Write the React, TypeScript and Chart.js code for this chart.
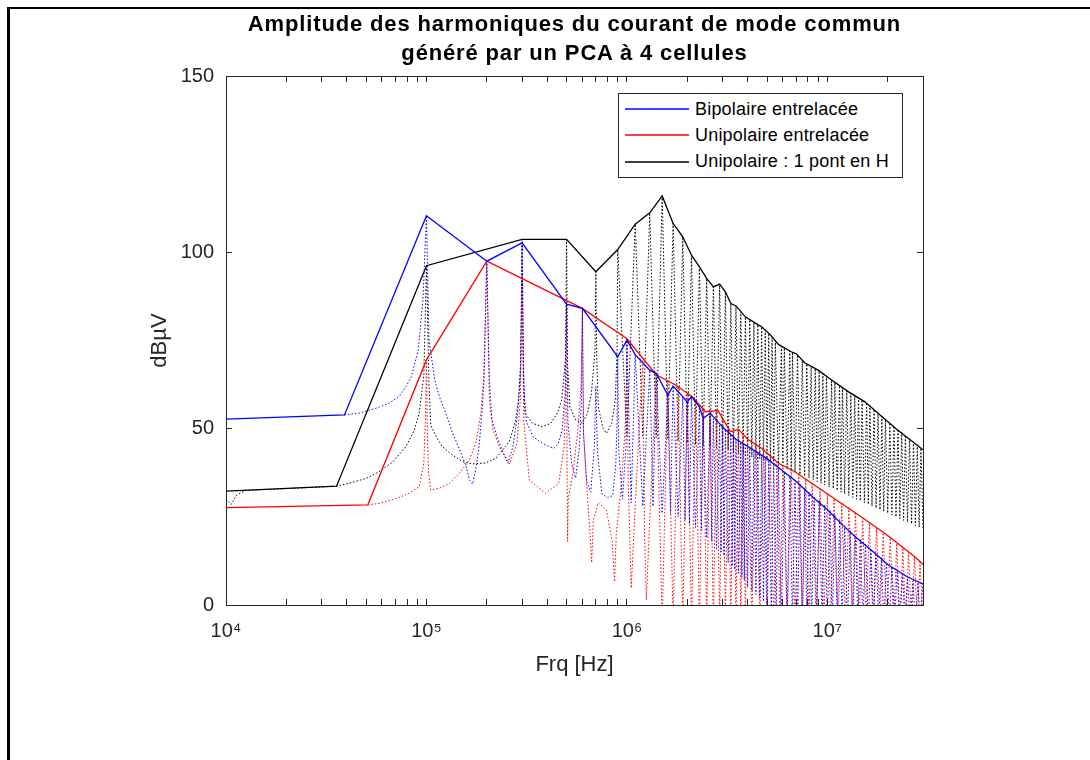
import React, { useEffect, useRef } from 'react';
import { Chart, registerables } from 'chart.js';

Chart.register(...registerables);

type Pt = [number, number]; // [frequency in kHz, amplitude in dBµV]

// ---------- envelopes (solid lines) ----------
const blueEnvelope: Pt[] = [
  [10, 52.7], [39, 53.9], [100, 110.4], [200, 97.5], [300, 102.7], [500, 85.3], [600, 84.1],
  [900, 70.4], [1000, 75.1], [1100, 71], [1300, 66.6], [1400, 65.7], [1600, 59.5], [1700, 62.1],
  [1900, 59.1], [2000, 57.6], [2100, 59.1], [2300, 56.2], [2400, 52.9], [2600, 54.4], [3000, 50.5],
  [3500, 47], [4000, 45], [5000, 41.5], [6000, 38], [7000, 35], [8500, 30.5], [10000, 27],
  [12000, 22.5], [14000, 19], [17000, 15], [20000, 11.5], [25000, 8], [30000, 6],
];

const redEnvelope: Pt[] = [
  [10, 27.6], [51, 28.4], [100, 69.5], [200, 97.5], [600, 84.1], [1000, 75.5], [1400, 65.3],
  [1750, 62.4], [2110, 59.1], [2470, 54.8], [2850, 55.1], [3280, 49.1], [3600, 49.8], [4050, 46.8],
  [4710, 44.4], [5710, 40.2], [6900, 37.8], [8360, 34.5], [10500, 30.7], [14300, 25.5],
  [19400, 20.3], [27300, 13.7], [30000, 11.5],
];

const blackEnvelope: Pt[] = [
  [10, 32.3], [35.6, 33.7], [100, 96.2], [300, 103.7], [500, 103.7], [700, 94.5], [900, 100.8],
  [1100, 108], [1300, 111.2], [1500, 116], [1700, 108.2], [1900, 104.4], [2100, 99.2], [2300, 95.9],
  [2500, 92.6], [2700, 90.2], [2900, 91], [3100, 88.8], [3300, 85.5], [3500, 84.8], [3900, 81.7],
  [4500, 79.5], [4700, 78.9], [5200, 76.6], [5700, 73.9], [6600, 71.8], [7000, 71.2], [7700, 68.7],
  [9000, 66.6], [10500, 63.8], [12700, 60.5], [15400, 57.6], [17900, 54.4], [22000, 50], [30000, 44],
];

// ---------- spectra (dotted lines) ----------
const blueSpectrum: Pt[] = [
  [39, 53.9], [46, 54.4], [56, 55.8], [65, 57.2], [73, 59.1], [79, 61.9], [84, 64.7], [91, 72.3], [96, 86.5],
  [100, 110.4], [103, 75.1], [110, 63.8], [116, 59.1], [125, 54.4], [135, 48.7], [149, 43], [158, 39.2],
  [164, 35.4], [170, 34.3], [177, 39.2], [183, 44.9], [189, 54.4], [194, 64], [200, 97.5], [206, 64],
  [212, 52.5], [225, 47.7], [240, 43.5], [255, 40.2], [270, 44.9], [285, 54.4], [294, 65], [300, 102.7],
  [306, 62], [315, 52], [340, 47.7], [380, 45.8], [430, 44.4], [455, 45.8], [475, 49.6], [492, 60],
  [500, 85.3], [508, 52], [530, 40], [555, 36], [580, 45], [593, 58], [600, 84.1], [608, 48], [630, 35],
  [660, 32], [688, 45], [700, 62], [712, 44], [750, 31.5], [800, 30.5], [850, 31], [880, 40], [893, 52],
  [900, 70.4], [908, 45], [950, 30], [990, 45], [1000, 75.1], [1050, 29], [1100, 71], [1200, 28],
  [1300, 66.6], [1350, 28], [1400, 65.7], [1500, 26], [1600, 59.5], [1650, 26], [1700, 62.1], [1800, 25],
  [1900, 59.1], [1950, 24], [2000, 57.6], [2050, 23], [2100, 59.1], [2200, 22], [2300, 56.2], [2350, 21],
  [2400, 52.9], [2500, 19], [2600, 54.4], [2650, 18], [2700, 52.8], [2800, 16], [2900, 51.2], [2950, 15],
  [3000, 50.5], [3050, 14], [3100, 49.9], [3200, 12], [3300, 48.5], [3350, 11], [3400, 47.8], [3450, 10],
  [3500, 47], [3600, 9], [3700, 46.2], [3750, 8], [3800, 45.8], [3850, 7], [3900, 45.4], [4000, 5],
  [4100, 44.6], [4200, 4], [4300, 43.9], [4400, 3], [4500, 43.2], [4600, 2], [4700, 42.5], [4800, 1],
  [4900, 41.8], [5000, 0], [5100, 41.2], [5250, -2], [5400, 40.1], [5550, -3], [5700, 39.1], [5900, -4],
  [6100, 37.7], [6300, -5], [6500, 36.5], [6700, -5], [6900, 35.3], [7100, -5], [7300, 34.3], [7500, -5],
  [7700, 33.2], [7900, -5], [8100, 32], [8350, -5], [8600, 30.8], [8850, -5], [9100, 29.8], [9400, -5],
  [9700, 28.5], [10000, -5], [10300, 27], [10600, -5], [10900, 25.7], [11200, -5], [11500, 24.2],
  [11850, -5], [12200, 22.5], [12600, -5], [13000, 21.1], [13400, -5], [13800, 19.7], [14200, -5],
  [14600, 18.5], [15050, -5], [15500, 17.2], [16000, -5], [16500, 15.9], [17000, -5], [17500, 14.7],
  [18050, -5], [18600, 13.4], [19150, -5], [19700, 12], [20350, -5], [21000, 10.8], [21650, -5],
  [22300, 9.7], [23000, -5], [23700, 8.6], [24400, -5], [25100, 7.6], [25900, -5], [26700, 6.8],
  [27500, -5], [28300, 6.4], [29100, -5], [29900, 6],
];

const redSpectrum: Pt[] = [
  [51, 28.4], [58, 28.8], [71, 30.2], [82, 31.7], [92, 33.5], [97, 40.2], [99, 54], [100, 69.5],
  [101, 49.6], [102.5, 37.3], [105, 32.6], [116, 33.1], [130, 34.5], [146, 37.3], [164, 41.1], [177, 46.3],
  [187, 54.4], [193, 65], [200, 97.5], [206, 58], [215, 49.6], [231, 44.9], [260, 40], [283, 46], [294, 58],
  [300, 92.5], [306, 52], [326, 35.4], [392, 31.7], [457, 34.5], [486, 44.9], [495, 60], [500, 86.3],
  [503, 40], [506, 18], [510, 30], [540, 38], [570, 50], [590, 62], [600, 84.1], [606, 50], [630, 34],
  [655, 20], [667, 12], [680, 24], [720, 29], [790, 27], [845, 18], [868, 6.6], [885, 20], [940, 35],
  [980, 50], [993, 62], [1000, 75.5], [1015, 35], [1050, 4.8], [1100, 28], [1200, 70], [1225, 20],
  [1250, 1.4], [1300, 24], [1400, 65.3], [1500, -5], [1600, 63.6], [1700, -5], [1800, 62], [1900, -5],
  [2000, 60], [2100, -5], [2200, 58.3], [2300, -5], [2400, 55.6], [2500, -5], [2600, 55], [2700, -5],
  [2800, 55.1], [2900, -5], [3000, 53], [3100, -5], [3200, 50], [3300, -5], [3400, 49.3], [3500, -5],
  [3600, 49.8], [3700, -5], [3800, 48], [3900, -5], [4000, 47], [4200, -5], [4400, 45.5], [4600, -5],
  [4800, 44.1], [5000, -5], [5200, 42.3], [5400, -5], [5600, 40.6], [5800, -5], [6000, 39.7], [6300, -5],
  [6600, 38.4], [6900, -5], [7200, 37], [7500, -5], [7800, 35.8], [8100, -5], [8400, 34.4], [8800, -5],
  [9200, 33], [9600, -5], [10000, 31.5], [10400, -5], [10800, 30.2], [11300, -5], [11800, 28.8],
  [12300, -5], [12800, 27.6], [13300, -5], [13800, 26.4], [14400, -5], [15000, 24.6], [15600, -5],
  [16200, 23.2], [16900, -5], [17600, 21.8], [18300, -5], [19000, 20.5], [19800, -5], [20600, 19],
  [21400, -5], [22200, 17.5], [23000, -5], [23800, 16.2], [24600, -5], [25400, 14.9], [26300, -5],
  [27200, 13.7], [28100, -5], [29000, 12.2], [30000, -5],
];

const blackSpectrum: Pt[] = [
  [10, 30], [10.6, 28.5], [11.3, 31.2], [12.5, 32.5], [20, 33], [35.6, 33.7], [41, 34.5], [50, 35.9],
  [58, 37.8], [68, 40.6], [79, 44.9], [87, 49.6], [92, 54.4], [97, 65], [100, 96.2], [103, 62], [105, 51],
  [112, 47.7], [120, 44.9], [135, 42.5], [152, 40.6], [170, 40], [198, 40.3], [222, 41.6], [240, 44],
  [259, 46.3], [279, 52.5], [288, 58.1], [296, 70], [300, 103.7], [304, 68], [310, 54.4], [338, 51.5],
  [379, 50.6], [417, 51.5], [450, 54.4], [473, 58.1], [494, 70], [500, 103.7], [506, 68], [520, 56],
  [555, 52.5], [600, 51.5], [636, 54.4], [665, 60], [693, 72], [700, 94.5], [707, 70], [720, 56.2],
  [760, 50.1], [790, 48.7], [840, 51.5], [875, 58], [893, 72], [900, 100.8], [1000, 48], [1100, 108],
  [1200, 48], [1300, 111.2], [1400, 47.5], [1500, 116], [1600, 47], [1700, 108.2], [1800, 46.5],
  [1900, 104.4], [2000, 46], [2100, 99.2], [2200, 45.5], [2300, 95.9], [2400, 45], [2500, 92.6],
  [2600, 45], [2700, 90.2], [2800, 44.5], [2900, 91], [3000, 44], [3100, 88.8], [3200, 44], [3300, 85.5],
  [3400, 43.5], [3500, 84.8], [3600, 43], [3700, 83.2], [3800, 43], [3900, 81.7], [4000, 42.5],
  [4100, 80.9], [4200, 42], [4300, 80.2], [4400, 42], [4500, 79.5], [4600, 41.5], [4700, 78.9],
  [4800, 41], [4900, 77.9], [5000, 41], [5100, 77], [5200, 40.5], [5300, 75.9], [5400, 40], [5500, 74.9],
  [5700, 39.5], [5900, 73.3], [6000, 39], [6100, 72.9], [6300, 38.5], [6500, 72], [6600, 38], [6700, 71.7],
  [6900, 37.5], [7100, 70.9], [7300, 37], [7500, 69.4], [7700, 36.5], [7900, 68.4], [8100, 36],
  [8300, 67.8], [8500, 35.5], [8700, 67.1], [8900, 35], [9100, 66.4], [9300, 34.5], [9500, 65.6],
  [9700, 34], [9900, 64.9], [10200, 33.5], [10500, 63.8], [10700, 33], [10900, 63.1], [11200, 32.5],
  [11500, 62.2], [11700, 32], [11900, 61.7], [12200, 31.5], [12500, 60.8], [12800, 31], [13100, 60.1],
  [13400, 30.5], [13700, 59.5], [14000, 30], [14300, 58.8], [14600, 29.5], [14900, 58.2], [15300, 29],
  [15700, 57.4], [16000, 28.5], [16300, 56.6], [16700, 28], [17100, 55.5], [17500, 27.5], [17900, 54.4],
  [18300, 27], [18700, 53.5], [19100, 26.5], [19500, 52.7], [20000, 26], [20500, 51.7], [21000, 25.5],
  [21500, 50.8], [22000, 25], [22500, 49.9], [23000, 24.5], [23500, 49], [24000, 24], [24500, 48.2],
  [25100, 23.5], [25700, 47.2], [26300, 23], [26900, 46.3], [27500, 22.5], [28100, 45.4], [28700, 22],
  [29300, 44.5], [30000, 21.5],
];

// ---------- texts & ticks ----------
const seriesLabels = ['Bipolaire entrelacée', 'Unipolaire entrelacée', 'Unipolaire : 1 pont en H'];
const seriesColors = ['#0000ff', '#ff0000', '#000000'];
const titleLines = ['Amplitude des harmoniques du courant de mode commun', 'généré par un PCA à 4 cellules'];
const xAxisTitle = 'Frq [Hz]';
const yAxisTitle = 'dBµV';
const xTickMantissas = [1, 2, 3, 4, 5, 6, 7, 8, 9];
const xTickDecades = [4, 5, 6, 7];
const xMin = 1e4;
const xMax = 3e7;
const yMin = 0;
const yMax = 150;
const yStep = 50;

const SUP = '⁰¹²³⁴⁵⁶⁷⁸⁹';
const FONT = '"Liberation Sans", Arial, Helvetica, sans-serif';
const AXIS_COLOR = '#262626';

const toXY = (pts: Pt[]) => pts.map(([k, v]) => ({ x: k * 1000, y: v }));

export default function App() {
  const canvasRef = useRef<HTMLCanvasElement | null>(null);

  useEffect(() => {
    if (!canvasRef.current) return;
    const xTicks: number[] = [];
    for (const e of xTickDecades) {
      for (const m of xTickMantissas) {
        const v = m * Math.pow(10, e);
        if (v >= xMin && v <= xMax) xTicks.push(v);
      }
    }
    const setXTicks = (scale: any) => {
      scale.ticks = xTicks.map((v) => ({ value: v }));
    };

    const solid = (label: string, pts: Pt[], color: string) => ({
      label,
      data: toXY(pts),
      borderColor: color,
      backgroundColor: color,
      borderWidth: 1.3,
      pointRadius: 0,
      pointHoverRadius: 0,
      fill: false,
      tension: 0,
    });
    const dotted = (label: string, pts: Pt[], color: string) => ({
      label,
      data: toXY(pts),
      borderColor: color,
      backgroundColor: color,
      borderWidth: 1,
      borderDash: [1.5, 2],
      pointRadius: 0,
      pointHoverRadius: 0,
      fill: false,
      tension: 0,
    });

    const tickFont = { family: FONT, size: 20 };
    const titleFont = { family: FONT, size: 22 };

    const chart = new Chart(canvasRef.current, {
      type: 'line',
      data: {
        datasets: [
          solid(seriesLabels[0], blueEnvelope, seriesColors[0]),
          solid(seriesLabels[1], redEnvelope, seriesColors[1]),
          solid(seriesLabels[2], blackEnvelope, seriesColors[2]),
          dotted(seriesLabels[0] + ' (spectre)', blueSpectrum, seriesColors[0]),
          dotted(seriesLabels[1] + ' (spectre)', redSpectrum, seriesColors[1]),
          dotted(seriesLabels[2] + ' (spectre)', blackSpectrum, seriesColors[2]),
        ] as any,
      },
      options: {
        responsive: false,
        animation: false,
        events: [],
        layout: { padding: { left: 0, top: 76, right: 167, bottom: 0 } },
        plugins: {
          legend: { display: false },
          title: { display: false },
          tooltip: { enabled: false },
        },
        scales: {
          x: {
            type: 'logarithmic',
            position: 'bottom',
            min: xMin,
            max: xMax,
            afterBuildTicks: setXTicks,
            afterFit: (s: any) => { s.height = 155; },
            ticks: {
              autoSkip: false,
              maxRotation: 0,
              minRotation: 0,
              padding: 20,
              color: AXIS_COLOR,
              font: tickFont,
              callback: (value: any) => {
                const v = Number(value);
                const e = Math.round(Math.log10(v));
                return Math.abs(v - Math.pow(10, e)) < 1e-6 * v ? '10' + SUP[e] : '';
              },
            },
            grid: { drawOnChartArea: false, tickLength: -6, tickColor: AXIS_COLOR, color: AXIS_COLOR },
            border: { display: true, color: AXIS_COLOR, width: 1 },
            title: { display: true, text: xAxisTitle, color: AXIS_COLOR, font: titleFont, padding: { top: 0, bottom: 82 } },
          },
          xTop: {
            type: 'logarithmic',
            axis: 'x',
            position: 'top',
            min: xMin,
            max: xMax,
            afterBuildTicks: setXTicks,
            afterFit: (s: any) => { s.height = 0; },
            ticks: { display: false, autoSkip: false },
            grid: { drawOnChartArea: false, tickLength: -6, tickColor: AXIS_COLOR, color: AXIS_COLOR },
            border: { display: true, color: AXIS_COLOR, width: 1 },
          },
          y: {
            type: 'linear',
            position: 'left',
            min: yMin,
            max: yMax,
            afterFit: (s: any) => { s.width = 226; },
            ticks: { stepSize: yStep, padding: 18, color: AXIS_COLOR, font: tickFont },
            grid: { drawOnChartArea: false, tickLength: -6, tickColor: AXIS_COLOR, color: AXIS_COLOR },
            border: { display: true, color: AXIS_COLOR, width: 1 },
            title: { display: true, text: yAxisTitle, color: AXIS_COLOR, font: titleFont, padding: { top: 147, bottom: 0 } },
          },
          yRight: {
            type: 'linear',
            axis: 'y',
            position: 'right',
            min: yMin,
            max: yMax,
            afterFit: (s: any) => { s.width = 0; },
            ticks: { stepSize: yStep, display: false },
            grid: { drawOnChartArea: false, tickLength: -6, tickColor: AXIS_COLOR, color: AXIS_COLOR },
            border: { display: true, color: AXIS_COLOR, width: 1 },
          },
        } as any,
      },
    });
    return () => chart.destroy();
  }, []);

  const legendRowCenters = [15.3, 41, 67.7];

  return (
    <div style={{ position: 'absolute', left: 0, top: 0, width: 1090, height: 760, overflow: 'hidden', background: '#fff' }}>
      <div
        style={{
          position: 'absolute', left: 7, top: 7, width: 1100, height: 800,
          borderLeft: '3px solid #000', borderTop: '2px solid #000',
        }}
      />
      <canvas ref={canvasRef} width={1090} height={760} style={{ position: 'absolute', left: 0, top: 0, width: 1090, height: 760 }} />
      <div
        style={{
          position: 'absolute', left: 226, top: 9, width: 697, textAlign: 'center',
          fontFamily: FONT, fontWeight: 'bold', fontSize: 22, lineHeight: '29px', letterSpacing: '0.85px', color: '#000',
        }}
      >
        {titleLines.map((t, i) => (
          <div key={i}>{t}</div>
        ))}
      </div>
      <div
        style={{
          position: 'absolute', left: 618, top: 93, width: 285, height: 85, boxSizing: 'border-box',
          border: `1px solid ${AXIS_COLOR}`, background: '#fff',
        }}
      >
        {seriesLabels.map((label, i) => (
          <div
            key={label}
            style={{
              position: 'absolute', left: 6, top: legendRowCenters[i] - 13, height: 26,
              display: 'flex', alignItems: 'center', whiteSpace: 'nowrap',
            }}
          >
            <svg width={64} height={6} style={{ display: 'block', flex: '0 0 auto' }}>
              <line x1={0} y1={3} x2={64} y2={3} stroke={seriesColors[i]} strokeWidth={1.3} />
            </svg>
            <span style={{ marginLeft: 6, fontFamily: FONT, fontSize: 18, letterSpacing: '0.2px', color: '#000' }}>{label}</span>
          </div>
        ))}
      </div>
    </div>
  );
}
